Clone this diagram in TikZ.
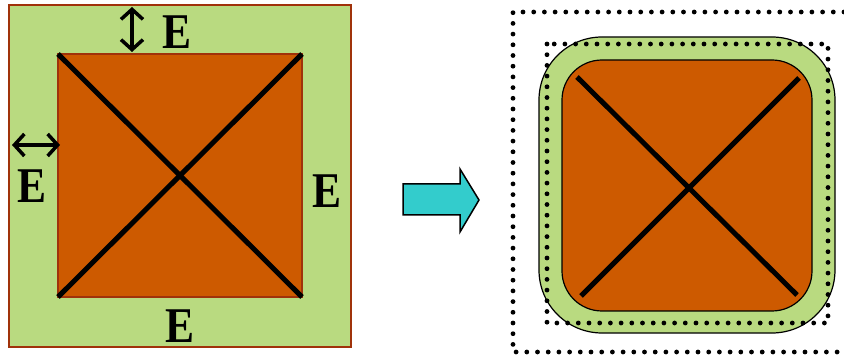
\documentclass[tikz,border=0pt]{standalone}
\usepackage{fontspec}
\setmainfont{Liberation Serif}
\usetikzlibrary{arrows.meta}
\definecolor{lgreen}{RGB}{185,218,128}
\definecolor{rust}{RGB}{205,90,0}
\definecolor{brownline}{RGB}{160,50,10}
\definecolor{cyanarrow}{RGB}{51,204,204}
\tikzset{
  elabel/.style={inner sep=0pt, font=\fontsize{50}{50}\selectfont\bfseries},
  diag/.style={line width=5pt},
  dimarrow/.style={line width=3.5pt, {Straight Barb[length=10pt,width=22pt,line width=3.5pt]}-{Straight Barb[length=10pt,width=22pt,line width=3.5pt]}},
  dots/.style={line width=4.8pt, line cap=round, dash pattern=on 0pt off 10.7pt},
}
\begin{document}
\begin{tikzpicture}[x=1pt,y=-1pt]
\useasboundingbox (0,0) rectangle (844,358);
% left panel
\draw[fill=lgreen, draw=brownline, line width=2pt] (9,5) rectangle (351,347);
\draw[fill=rust, draw=brownline, line width=1.5pt] (58,54) rectangle (302,297);
\coordinate (tl) at (58,54);
\coordinate (tr) at (302,54);
\coordinate (bl) at (58,297);
\coordinate (br) at (302,297);
\draw[diag] (tl) -- (br);
\draw[diag] (bl) -- (tr);
\coordinate (ta) at (132,7);
\coordinate (tb) at (132,52);
\draw[dimarrow] (ta) -- (tb);
\coordinate (la) at (12,145);
\coordinate (lb) at (60,145);
\draw[dimarrow] (la) -- (lb);
\node[elabel] (etop) at (177,32) {\scalebox{0.87}[1]{E}};
\node[elabel] (eleft) at (32,186) {\scalebox{0.87}[1]{E}};
\node[elabel] (eright) at (327,191) {\scalebox{0.87}[1]{E}};
\node[elabel] (ebottom) at (180,326) {\scalebox{0.87}[1]{E}};
% block arrow
\draw[fill=cyanarrow, line width=1.5pt, line join=miter]
  (403,184) -- (460,184) -- (460,169) -- (479,200) -- (460,232) -- (460,215) -- (403,215) -- cycle;
% right panel
\draw[dots] (844,12) -- (513,12) -- (513,352) -- (844,352);
\draw[fill=lgreen, line width=1.2pt, rounded corners=63pt] (539,37) rectangle (835,333);
\draw[dots] (547,44) rectangle (828,323);
\draw[fill=rust, line width=1.2pt, rounded corners=40pt] (562,60) rectangle (812,311);
\coordinate (rtl) at (577,77);
\coordinate (rbr) at (797,295);
\coordinate (rtr) at (799,78);
\coordinate (rbl) at (581,296);
\draw[diag] (rtl) -- (rbr);
\draw[diag] (rbl) -- (rtr);
\end{tikzpicture}
\end{document}
